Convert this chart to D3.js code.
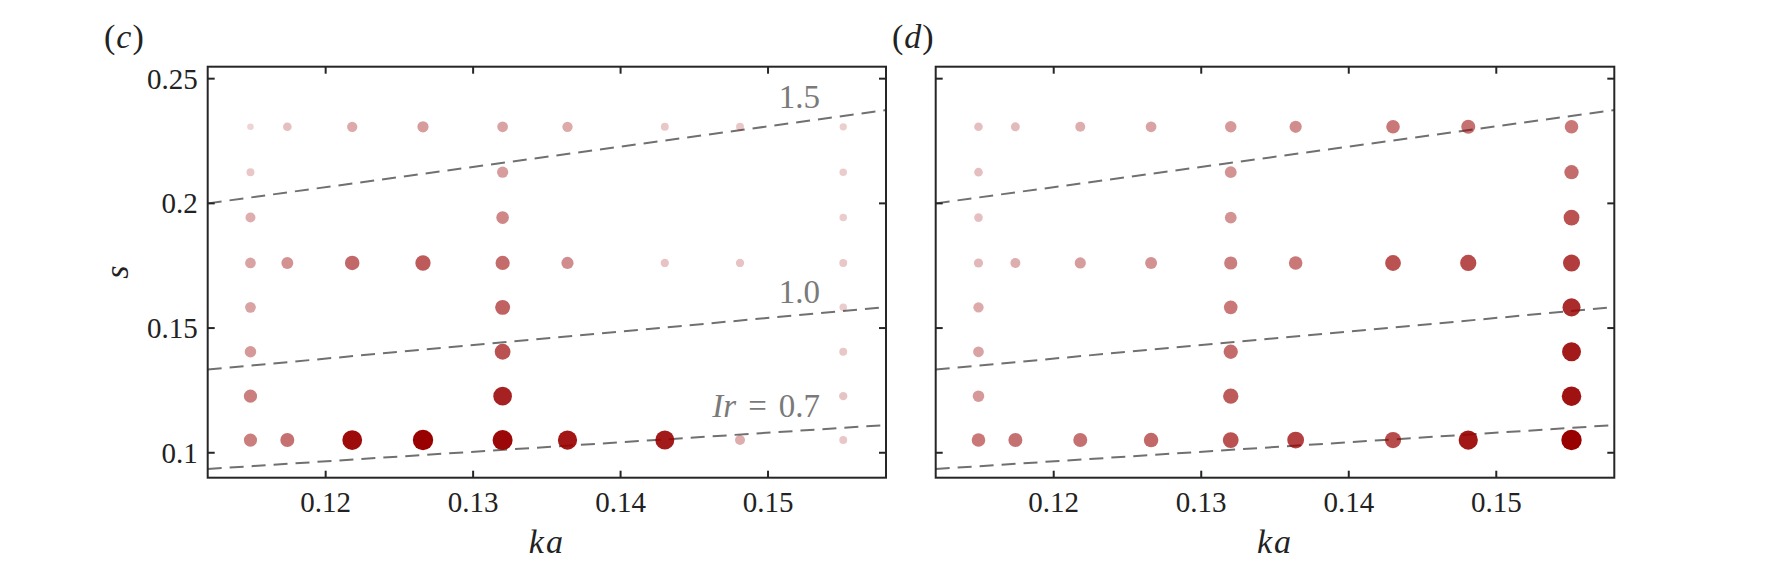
<!DOCTYPE html>
<html>
<head>
<meta charset="utf-8">
<script src="https://cdn.jsdelivr.net/npm/d3@7"></script>
<style>
  html, body { margin: 0; padding: 0; background: #fff; }
  svg { display: block; }
  text { font-family: "Liberation Serif", "Times New Roman", serif; }
</style>
</head>
<body>
<script>
// ---------- data ----------
const kaValues = [0.1149, 0.1174, 0.1218, 0.1266, 0.1320, 0.1364, 0.1430, 0.1481, 0.1551];
const sValues  = [0.2307, 0.2125, 0.1943, 0.1761, 0.1583, 0.1405, 0.1227, 0.1051];

// intensity (0..1) per (s row, ka column); null = no experiment
const intensityC = [
  [0.02, 0.12, 0.22, 0.28, 0.25, 0.22, 0.08, 0.08, 0.05],
  [0.08, null, null, null, 0.28, null, null, null, 0.06],
  [0.20, null, null, null, 0.38, null, null, null, 0.06],
  [0.25, 0.33, 0.52, 0.58, 0.50, 0.35, 0.10, 0.10, 0.08],
  [0.25, null, null, null, 0.55, null, null, null, 0.06],
  [0.30, null, null, null, 0.62, null, null, null, 0.08],
  [0.42, null, null, null, 0.85, null, null, null, 0.10],
  [0.42, 0.48, 0.95, 1.00, 0.97, 0.90, 0.88, 0.20, 0.08]
];
const intensityD = [
  [0.12, 0.14, 0.20, 0.25, 0.30, 0.35, 0.45, 0.48, 0.45],
  [0.12, null, null, null, 0.32, null, null, null, 0.50],
  [0.12, null, null, null, 0.32, null, null, null, 0.62],
  [0.15, 0.20, 0.28, 0.33, 0.42, 0.45, 0.62, 0.65, 0.72],
  [0.22, null, null, null, 0.45, null, null, null, 0.80],
  [0.25, null, null, null, 0.50, null, null, null, 0.88],
  [0.30, null, null, null, 0.58, null, null, null, 0.92],
  [0.45, 0.48, 0.48, 0.52, 0.62, 0.70, 0.65, 0.90, 1.00]
];

// Iribarren reference lines: s at the two ends of the ka range
const irLabels = ["Ir = 0.7", "1.0", "1.5"];
const irKa = [0.112, 0.158];
const irS = [
  [0.0935, 0.1111],
  [0.1334, 0.1584],
  [0.2000, 0.2374]
];

const xDomain = [0.112, 0.158];
const yDomain = [0.09, 0.2548];
const xTicks = [0.12, 0.13, 0.14, 0.15];
const xTickLabels = ["0.12", "0.13", "0.14", "0.15"];
const yTicks = [0.1, 0.15, 0.2, 0.25];
const yTickLabels = ["0.1", "0.15", "0.2", "0.25"];
const panelLabels = ["c", "d"];

// ---------- drawing ----------
const W = 1771, H = 573;
const svg = d3.select("body").append("svg").attr("width", W).attr("height", H);

const panels = [
  { left: 207.7, right: 886.0, data: intensityC, label: panelLabels[0], labelX: 104, yLabels: true, annot: true },
  { left: 935.7, right: 1614.3, data: intensityD, label: panelLabels[1], labelX: 892, yLabels: false, annot: false }
];
const plotTop = 66.7, plotBottom = 477.7;
const tickFont = 29, labelFont = 33;

panels.forEach(p => {
  const x = d3.scaleLinear().domain(xDomain).range([p.left, p.right]);
  const y = d3.scaleLinear().domain(yDomain).range([plotBottom, plotTop]);
  const g = svg.append("g");

  // reference dashed lines
  irS.forEach(ends => {
    g.append("path")
      .attr("d", d3.line().x(d => x(d[0])).y(d => y(d[1]))(irKa.map((k, i) => [k, ends[i]])))
      .attr("fill", "none")
      .attr("stroke", "#707070")
      .attr("stroke-width", 2)
      .attr("stroke-dasharray", "14,8");
  });

  // points
  const pts = [];
  p.data.forEach((row, i) => row.forEach((v, j) => {
    if (v !== null) pts.push({ ka: kaValues[j], s: sValues[i], v: v });
  }));
  const rScale = d3.scalePow().exponent(0.8).domain([0, 1]).range([3.0, 10.2]);
  const aScale = d3.scaleLinear().domain([0, 1]).range([0.15, 1.0]);
  g.selectAll("circle.pt").data(pts).enter().append("circle")
    .attr("class", "pt")
    .attr("cx", d => x(d.ka))
    .attr("cy", d => y(d.s))
    .attr("r", d => rScale(d.v))
    .attr("fill", "#990000")
    .attr("fill-opacity", d => aScale(d.v));

  // annotations
  if (p.annot) {
    const annY = [417, 303, 108];
    irLabels.forEach((lab, i) => {
      const t = g.append("text")
        .attr("x", 820).attr("y", annY[i])
        .attr("text-anchor", "end")
        .attr("fill", "#7a7a7a")
        .attr("font-size", labelFont);
      if (lab.startsWith("Ir")) {
        t.append("tspan").attr("font-style", "italic").text("Ir");
        t.append("tspan").attr("dx", 12).text("=");
        t.append("tspan").attr("dx", 12).text("0.7");
      } else {
        t.text(lab);
      }
    });
  }

  // frame
  g.append("rect")
    .attr("x", p.left).attr("y", plotTop)
    .attr("width", p.right - p.left).attr("height", plotBottom - plotTop)
    .attr("fill", "none").attr("stroke", "#262626").attr("stroke-width", 2);

  const tl = 7;
  xTicks.forEach((t, i) => {
    const xx = x(t);
    g.append("line").attr("x1", xx).attr("x2", xx).attr("y1", plotBottom).attr("y2", plotBottom - tl)
      .attr("stroke", "#262626").attr("stroke-width", 2);
    g.append("line").attr("x1", xx).attr("x2", xx).attr("y1", plotTop).attr("y2", plotTop + tl)
      .attr("stroke", "#262626").attr("stroke-width", 2);
    g.append("text").attr("x", xx).attr("y", 512)
      .attr("text-anchor", "middle").attr("font-size", tickFont).attr("fill", "#222")
      .text(xTickLabels[i]);
  });
  yTicks.forEach((t, i) => {
    const yy = y(t);
    g.append("line").attr("x1", p.left).attr("x2", p.left + tl).attr("y1", yy).attr("y2", yy)
      .attr("stroke", "#262626").attr("stroke-width", 2);
    g.append("line").attr("x1", p.right).attr("x2", p.right - tl).attr("y1", yy).attr("y2", yy)
      .attr("stroke", "#262626").attr("stroke-width", 2);
    if (p.yLabels) {
      g.append("text").attr("x", p.left - 10).attr("y", yy)
        .attr("dy", "0.34em")
        .attr("text-anchor", "end").attr("font-size", tickFont).attr("fill", "#222")
        .text(yTickLabels[i]);
    }
  });

  // axis labels
  g.append("text").attr("x", (p.left + p.right) / 2).attr("y", 553)
    .attr("text-anchor", "middle").attr("font-size", 34).attr("font-style", "italic")
    .attr("letter-spacing", 2)
    .attr("fill", "#222").text("ka");
  if (p.yLabels) {
    g.append("text").attr("transform", `translate(128,${(plotTop + plotBottom) / 2}) rotate(-90)`)
      .attr("text-anchor", "middle").attr("font-size", 34).attr("font-style", "italic")
      .attr("fill", "#222").text("s");
  }

  // panel label
  const pl = g.append("text").attr("x", p.labelX).attr("y", 48)
    .attr("font-size", 34).attr("fill", "#222");
  pl.append("tspan").text("(");
  pl.append("tspan").attr("font-style", "italic").attr("dx", 1).text(p.label);
  pl.append("tspan").attr("dx", 1).text(")");
});
</script>
</body>
</html>
